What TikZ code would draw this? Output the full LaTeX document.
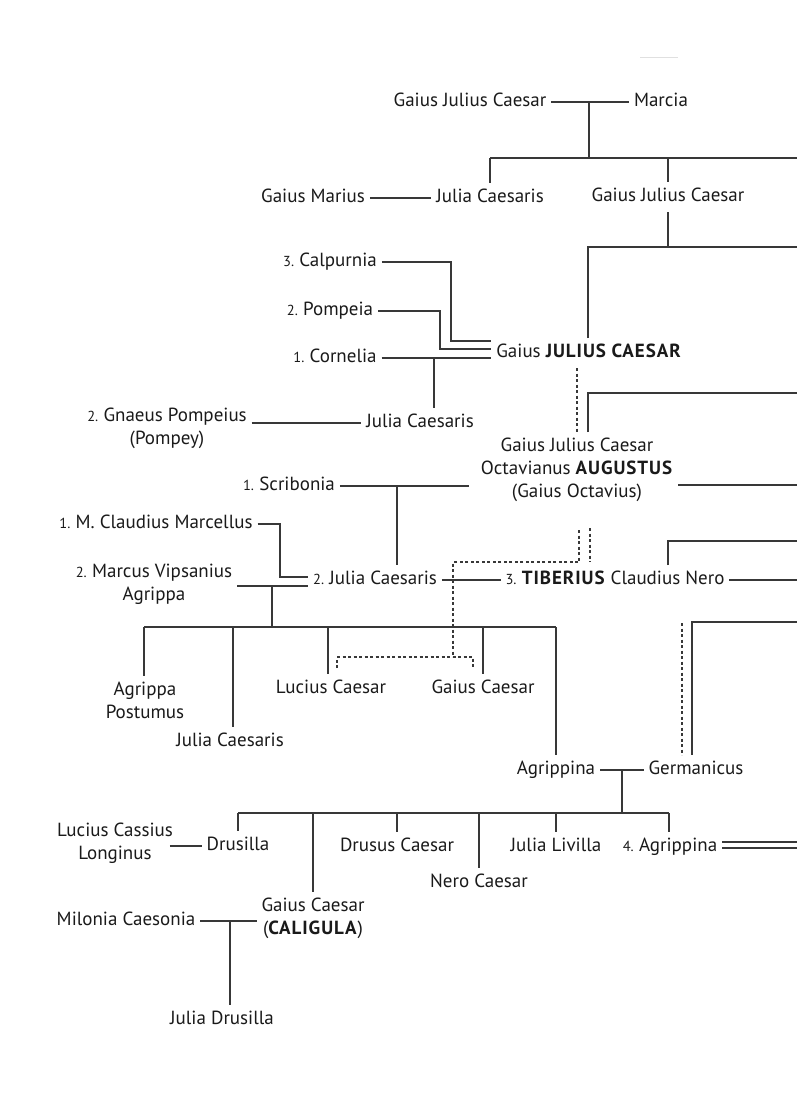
\documentclass[tikz,border=0pt]{standalone}
\usepackage{fontspec}
\setmainfont{PT Sans}[BoldFeatures={LetterSpace=5}]
\definecolor{txt}{HTML}{1A1A1A}
\definecolor{lc}{HTML}{383838}
\newcommand\fsz{\fontsize{19}{23}\selectfont}
\newcommand\onum[1]{{\fontsize{14.5}{12}\selectfont #1}\hspace{-1.5pt}}
\begin{document}
\begin{tikzpicture}[x=1pt,y=-1pt,
  every node/.style={inner sep=0pt, outer xsep=5pt, outer ysep=6pt, font=\fsz, text=txt},
  nm/.style={text height=13.5pt, text depth=4.5pt},
  two/.style={align=center},
  ln/.style={draw=lc, line width=1.25pt},
  dl/.style={draw=lc, line width=1.2pt, dash pattern=on 3pt off 2.5pt}]
\useasboundingbox (0,0) rectangle (797,1103);
\fill[white] (0,0) rectangle (797,1103);

% ---------- nodes ----------
\node[nm] (gjc1) at (470,102) {Gaius Julius Caesar};
\node[nm] (marcia) at (661,102) {Marcia};
\node[nm] (marius) at (313,198) {Gaius Marius};
\node[nm] (juliaA) at (490,198) {Julia Caesaris};
\node[nm] (gjc2) at (668,197) {Gaius Julius Caesar};
\node[nm] (calp) at (330,262) {\onum{3.} Calpurnia};
\node[nm] (pomp) at (330,311) {\onum{2.} Pompeia};
\node[nm] (corn) at (335,358) {\onum{1.} Cornelia};
\node[nm] (jc) at (589,353) {Gaius \textbf{JULIUS CAESAR}};
\node[nm] (juliaB) at (420,423) {Julia Caesaris};
\node[two] (pompey) at (167,428) {\onum{2.} Gnaeus Pompeius\\(Pompey)};
\node[two] (aug) at (577,470) {Gaius Julius Caesar\\Octavianus \textbf{AUGUSTUS}\\(Gaius Octavius)};
\node[nm] (scrib) at (289,486) {\onum{1.} Scribonia};
\node[nm] (marcellus) at (156,524) {\onum{1.} M. Claudius Marcellus};
\node[nm] (juliaC) at (375,580) {\onum{2.} Julia Caesaris};
\node[two] (agrippa) at (154,584) {\onum{2.} Marcus Vipsanius\\Agrippa};
\node[nm] (tib) at (615,580) {\onum{3.} \textbf{TIBERIUS} Claudius Nero};
\node[two] (postumus) at (145,700) {Agrippa\\Postumus};
\node[nm] (juliaD) at (230,742) {Julia Caesaris};
\node[nm] (lucius) at (331,689) {Lucius Caesar};
\node[nm] (gaiusC) at (483,689) {Gaius Caesar};
\node[nm] (agrippina) at (556,770) {Agrippina};
\node[nm] (germ) at (696,770) {Germanicus};
\node[two] (longinus) at (115,843) {Lucius Cassius\\Longinus};
\node[nm] (drusilla) at (238,846) {Drusilla};
\node[nm] (drusus) at (397,847) {Drusus Caesar};
\node[nm] (nero) at (479,883) {Nero Caesar};
\node[nm] (livilla) at (556,847) {Julia Livilla};
\node[nm] (agr4) at (670,847) {\onum{4.} Agrippina};
\node[two] (caligula) at (313,918) {Gaius Caesar\\(\textbf{CALIGULA})};
\node[nm] (milonia) at (126,921) {Milonia Caesonia};
\node[nm] (juliaDr) at (222,1020) {Julia Drusilla};

% ---------- connectors ----------
\draw[draw=black!12, line width=1pt] (640,57) -- (678,57);
\draw[ln] (gjc1.east) -- (marcia.west);
\draw[ln] (589,102) -- (589,158);
\draw[ln] (490,158) -- (797,158);
\draw[ln] (490,158) -- (490,0 |- juliaA.north);
\draw[ln] (668,158) -- (668,0 |- gjc2.north);
\draw[ln] (marius.east) -- (juliaA.west);
\draw[ln] (668,0 |- gjc2.south) -- (668,247);
\draw[ln] (588,0 |- jc.north) -- (588,247) -- (797,247);

\draw[ln] (calp.east) -- (451,262) -- (451,341) -- (jc.west |- 0,341);
\draw[ln] (pomp.east) -- (440,311) -- (440,349) -- (jc.west |- 0,349);
\draw[ln] (corn.east) -- (jc.west |- 0,358);
\draw[ln] (434,358) -- (434,0 |- juliaB.north);
\draw[ln] (pompey.east |- juliaB.west) -- (juliaB.west);

\draw[dl] (577,0 |- jc.south) -- (577,0 |- aug.north);
\draw[ln] (588,0 |- aug.north) -- (588,393) -- (797,393);
\draw[ln] (aug.east |- 0,485) -- (797,485);
\draw[ln] (scrib.east) -- ([xshift=-7pt]aug.west |- scrib.east);
\draw[ln] (397,0 |- scrib.east) -- (397,0 |- juliaC.north);

\draw[ln] (marcellus.east) -- (280,0 |- marcellus.east) -- (280,577) -- (juliaC.west |- 0,577);
\draw[ln] (agrippa.east |- 0,586) -- (juliaC.west |- 0,586);
\draw[ln] (272,586) -- (272,627);
\draw[ln] (juliaC.east) -- (tib.west);
\draw[ln] (tib.east) -- (797,0 |- tib.east);
\draw[ln] (668,0 |- tib.north) -- (668,541) -- (797,541);

\draw[dl] (579,530) -- (579,562) -- (453,562) -- (453,657);
\draw[dl] (590,528) -- (590,562);
\draw[dl] (337,668) -- (337,657) -- (473,657) -- (473,668);

\draw[ln] (144,627) -- (556,627);
\draw[ln] (144,627) -- (144,0 |- postumus.north);
\draw[ln] (233,627) -- (233,0 |- juliaD.north);
\draw[ln] (328,627) -- (328,0 |- lucius.north);
\draw[ln] (483,627) -- (483,0 |- gaiusC.north);
\draw[ln] (556,627) -- (556,0 |- agrippina.north);

\draw[ln] (agrippina.east) -- (germ.west);
\draw[ln] (622,770) -- (622,813);
\draw[dl] (682,623) -- (682,0 |- germ.north);
\draw[ln] (797,622) -- (692,622) -- (692,0 |- germ.north);

\draw[ln] (238,813) -- (669,813);
\draw[ln] (238,813) -- (238,0 |- drusilla.north);
\draw[ln] (313,813) -- (313,0 |- caligula.north);
\draw[ln] (397,813) -- (397,0 |- drusus.north);
\draw[ln] (479,813) -- (479,0 |- nero.north);
\draw[ln] (556,813) -- (556,0 |- livilla.north);
\draw[ln] (669,813) -- (669,0 |- agr4.north);

\draw[ln] ([xshift=-8pt]longinus.east |- drusilla.west) -- (drusilla.west);
\draw[ln] (milonia.east) -- (caligula.west |- milonia.east);
\draw[ln] (230,921) -- (230,0 |- juliaDr.north);
\draw[ln] (agr4.east |- 0,842) -- (797,842);
\draw[ln] (agr4.east |- 0,848) -- (797,848);
\end{tikzpicture}
\end{document}
